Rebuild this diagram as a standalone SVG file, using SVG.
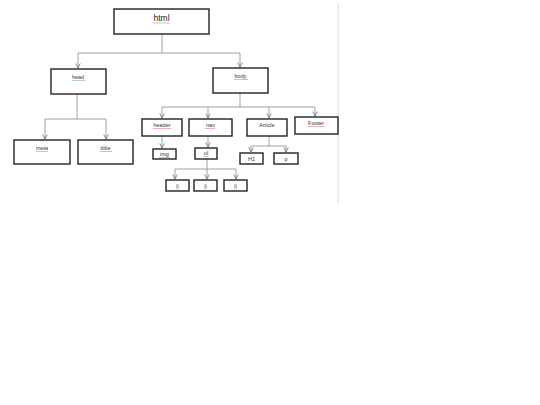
<svg xmlns="http://www.w3.org/2000/svg" width="540" height="405" viewBox="0 0 540 405">
<style>
.box{fill:#fff;stroke:#222;stroke-width:1.4}
.t{font-family:"Liberation Sans",Arial,sans-serif;font-size:5.5px;fill:#333;text-anchor:middle}
.big{font-size:8.5px;fill:#222}
.c{fill:none;stroke:#8a8a8a;stroke-width:0.8}
.sr{stroke:#e08080;stroke-width:0.6}
.sg{stroke:#80c080;stroke-width:0.6}
</style>
<defs>
<marker id="a" viewBox="0 0 8 8" refX="7" refY="4" markerWidth="6" markerHeight="6" orient="auto" markerUnits="userSpaceOnUse">
<path d="M1,1 L7,4 L1,7" fill="none" stroke="#666" stroke-width="1"/>
</marker>
</defs>
<rect width="540" height="405" fill="#fff"/>
<line x1="338" y1="3" x2="338" y2="203" stroke="#d9d9d9" stroke-width="1"/>
<g id="connectors">
<path class="c" d="M162,34 V53 M78,53 H240"/>
<path class="c" d="M78,53 V68" marker-end="url(#a)"/>
<path class="c" d="M240,53 V67" marker-end="url(#a)"/>
<path class="c" d="M77,94 V119 M45,119 H106"/>
<path class="c" d="M45,119 V139" marker-end="url(#a)"/>
<path class="c" d="M106,119 V139" marker-end="url(#a)"/>
<path class="c" d="M240,93 V107 M162,107 H315"/>
<path class="c" d="M162,107 V118" marker-end="url(#a)"/>
<path class="c" d="M208,107 V118" marker-end="url(#a)"/>
<path class="c" d="M269,107 V118" marker-end="url(#a)"/>
<path class="c" d="M315,107 V116" marker-end="url(#a)"/>
<path class="c" d="M162,136 V148" marker-end="url(#a)"/>
<path class="c" d="M208,136 V147" marker-end="url(#a)"/>
<path class="c" d="M207,159 V169 M175,169 H236"/>
<path class="c" d="M175,169 V179" marker-end="url(#a)"/>
<path class="c" d="M207,169 V179" marker-end="url(#a)"/>
<path class="c" d="M236,169 V179" marker-end="url(#a)"/>
<path class="c" d="M269,136 V146 M251,146 H286"/>
<path class="c" d="M251,146 V152" marker-end="url(#a)"/>
<path class="c" d="M286,146 V152" marker-end="url(#a)"/>
</g>
<g id="html"><rect class="box" x="114" y="9" width="95" height="25"/><text class="t big" x="161.5" y="21">html</text><line class="sr" x1="153" y1="23" x2="170" y2="23"/></g>
<g id="head"><rect class="box" x="51" y="69" width="55" height="25"/><text class="t" x="78" y="79">head</text><line class="sg" x1="72" y1="80.5" x2="85" y2="80.5"/></g>
<g id="meta"><rect class="box" x="14" y="140" width="56" height="24"/><text class="t" x="42" y="150">meta</text><line class="sg" x1="36" y1="151.5" x2="48" y2="151.5"/></g>
<g id="title"><rect class="box" x="78" y="140" width="55" height="24"/><text class="t" x="105.5" y="150">tittle</text><line class="sr" x1="100" y1="151.5" x2="112" y2="151.5"/></g>
<g id="body"><rect class="box" x="213" y="68" width="55" height="25"/><text class="t" x="240.5" y="78">body</text><line class="sr" x1="234" y1="79.5" x2="248" y2="79.5"/></g>
<g id="header"><rect class="box" x="142" y="119" width="40" height="17"/><text class="t" x="162" y="127">header</text><line class="sr" x1="153" y1="128.5" x2="171" y2="128.5"/></g>
<g id="nav"><rect class="box" x="189" y="119" width="43" height="17"/><text class="t" x="210.5" y="127">nav</text><line class="sr" x1="205" y1="128.5" x2="215" y2="128.5"/></g>
<g id="article"><rect class="box" x="247" y="119" width="40" height="17"/><text class="t" x="267" y="127">Article</text></g>
<g id="footer"><rect class="box" x="295" y="117" width="43" height="17"/><text class="t" x="316" y="125">Footer</text><line class="sr" x1="308" y1="126.5" x2="324" y2="126.5"/></g>
<g id="img"><rect class="box" x="153" y="149" width="23" height="10"/><text class="t" x="164.5" y="156">img</text><line class="sr" x1="159" y1="157.5" x2="170" y2="157.5"/></g>
<g id="ul"><rect class="box" x="195" y="148" width="22" height="11"/><text class="t" x="206" y="155">ul</text><line class="sr" x1="203" y1="156.5" x2="209" y2="156.5"/></g>
<g id="li1"><rect class="box" x="166" y="180" width="23" height="11"/><text class="t" x="177.5" y="187.5">li</text><line class="sg" x1="176" y1="189" x2="179" y2="189"/></g>
<g id="li2"><rect class="box" x="194" y="180" width="23" height="11"/><text class="t" x="205.5" y="187.5">li</text><line class="sg" x1="204" y1="189" x2="207" y2="189"/></g>
<g id="li3"><rect class="box" x="224" y="180" width="23" height="11"/><text class="t" x="235.5" y="187.5">li</text><line class="sg" x1="234" y1="189" x2="237" y2="189"/></g>
<g id="h1"><rect class="box" x="240" y="153" width="23" height="11"/><text class="t" x="251.5" y="160.5">H1</text></g>
<g id="p"><rect class="box" x="274" y="153" width="24" height="11"/><text class="t" x="286" y="160.5">p</text></g>
</svg>
